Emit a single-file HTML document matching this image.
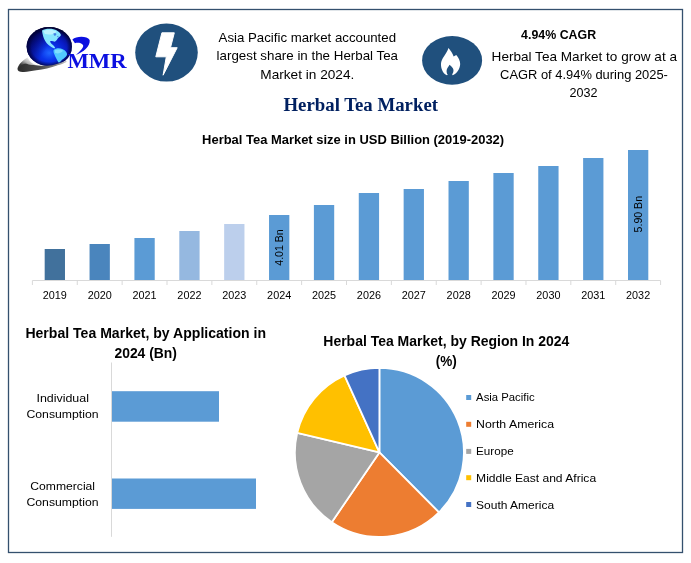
<!DOCTYPE html>
<html lang="en"><head><meta charset="utf-8"><title>Herbal Tea Market</title>
<style>html,body{margin:0;padding:0;background:#fff;}body{width:691px;height:563px;overflow:hidden;}svg{display:block;}text{font-family:"Liberation Sans",sans-serif;fill:#000;}.b{font-weight:bold;}.ser{font-family:"Liberation Serif",serif;font-weight:bold;}</style></head><body>
<svg width="691" height="563" viewBox="0 0 691 563">
<defs><radialGradient id="gl" cx="0.5" cy="0.66" r="0.64"><stop offset="0" stop-color="#1f66ff"/><stop offset="0.3" stop-color="#0a34ea"/><stop offset="0.6" stop-color="#091cc8"/><stop offset="0.85" stop-color="#06108a"/><stop offset="1" stop-color="#020530"/></radialGradient><radialGradient id="gl2" cx="0.5" cy="0.5" r="0.5"><stop offset="0.78" stop-color="#000030" stop-opacity="0"/><stop offset="1" stop-color="#000030" stop-opacity="0.75"/></radialGradient><linearGradient id="gl3" x1="0" y1="0.3" x2="0.45" y2="0.55"><stop offset="0" stop-color="#00003a" stop-opacity="0.75"/><stop offset="1" stop-color="#00003a" stop-opacity="0"/></linearGradient><linearGradient id="sw" gradientUnits="userSpaceOnUse" x1="-73" y1="0" x2="480" y2="0"><stop offset="0" stop-color="#2c2c2c"/><stop offset="0.45" stop-color="#4a4a4a"/><stop offset="0.75" stop-color="#7c7c7c"/><stop offset="1" stop-color="#c4c4c4"/></linearGradient><linearGradient id="sw2" gradientUnits="userSpaceOnUse" x1="60" y1="385" x2="0" y2="480"><stop offset="0" stop-color="#f2f2f2"/><stop offset="0.5" stop-color="#b0b0b0"/><stop offset="1" stop-color="#3a3a3a"/></linearGradient></defs>
<rect x="0" y="0" width="691" height="563" fill="#ffffff"/>
<rect x="8.5" y="9.5" width="674" height="543" fill="none" stroke="#34506e" stroke-width="1.3"/>
<g transform="translate(24 24) scale(0.08873)">
<ellipse cx="285" cy="255" rx="255" ry="221" fill="url(#gl)"/>
<ellipse cx="285" cy="255" rx="255" ry="221" fill="url(#gl2)"/>
<ellipse cx="285" cy="255" rx="255" ry="221" fill="url(#gl3)"/>
<path d="M203,72 C230,52 292,48 332,58 C372,68 408,90 417,125 C408,146 388,150 378,166 C370,182 360,192 344,200 C332,194 312,186 294,194 C296,214 318,230 338,248 C346,258 350,266 352,274 C336,276 318,268 300,254 C268,232 240,200 226,165 C214,135 206,100 203,72 Z" fill="#86e6ff"/>
<path d="M218,78 C260,60 322,60 366,84 C348,116 290,126 236,114 Z" fill="#c4f6ff" opacity="0.85"/>
<path d="M330,108 l22,-6 l14,12 l-8,16 l-18,2 Z M372,140 l12,-8 l6,10 l-10,8 Z" fill="#1a3fd0" opacity="0.6"/>
<path d="M334,292 C358,272 402,268 436,284 C466,298 490,324 484,348 C474,374 444,388 428,404 C414,420 402,440 386,432 C372,404 352,372 342,342 C335,322 329,306 334,292 Z" fill="#52caff"/>
<path d="M348,296 C375,282 412,284 440,300 C424,332 380,338 350,324 Z" fill="#8be4ff" opacity="0.8"/>
<path d="M-73,508 C-70,460 -15,410 43,374 C52,415 95,450 150,466 C100,462 50,455 18,447 Z" fill="url(#sw2)"/>
<path d="M-73,508 C-60,475 -20,455 18,445 C60,458 100,463 138,465 C180,470 220,473 259,471 C300,468 340,460 379,447 C415,436 445,428 477,414 L479,427 C445,445 415,455 379,466 C340,480 300,492 259,501 C220,510 180,515 139,520 C90,528 40,538 0,541 C-40,545 -75,535 -73,508 Z" fill="url(#sw)"/>
</g>
<g transform="translate(60 25) scale(0.10854)">
<path d="M114,134 C150,100 250,98 273,138 C282,195 215,250 146,277 C190,238 222,205 212,185 C195,162 160,162 138,168 Z" fill="#0b0fe0"/>
</g>
<text x="67.4" y="68.3" font-size="20.4" textLength="59.2" lengthAdjust="spacingAndGlyphs" class="ser" style="fill:#0b0fe0">MMR</text>
<ellipse cx="166.5" cy="52.6" rx="31.3" ry="29" fill="#20507d"/>
<path d="M161.9,32.8 L174.3,32.8 L170.5,47.7 L177.2,47.7 L163.1,75.2 L166.3,56.8 L155.8,56.8 Z" fill="#fff" stroke="#fff" stroke-width="1" stroke-linejoin="round"/>
<ellipse cx="452.1" cy="60.4" rx="30" ry="24.3" fill="#20507d"/>
<g transform="translate(436 42) scale(0.07111)">
<path d="M175,85 C205,120 235,160 248,205 C260,198 272,190 285,183 C315,220 342,265 340,310 C338,380 295,445 235,466 C228,462 226,455 232,445 C250,420 250,385 235,365 C225,350 205,335 190,320 C180,345 160,360 152,385 C145,410 150,440 165,462 C160,468 150,468 140,462 C95,435 68,370 70,310 C72,230 150,170 175,85 Z" fill="#fff"/>
</g>
<text x="307.3" y="41.6" font-size="13.2" text-anchor="middle" textLength="177.5" lengthAdjust="spacingAndGlyphs">Asia Pacific market accounted</text>
<text x="307.3" y="60.2" font-size="13.2" text-anchor="middle" textLength="181.5" lengthAdjust="spacingAndGlyphs">largest share in the Herbal Tea</text>
<text x="307.3" y="78.8" font-size="13.2" text-anchor="middle" textLength="94" lengthAdjust="spacingAndGlyphs">Market in 2024.</text>
<text x="558.6" y="39.1" font-size="13.2" text-anchor="middle" textLength="75" lengthAdjust="spacingAndGlyphs" class="b">4.94% CAGR</text>
<text x="584.3" y="61.2" font-size="13.2" text-anchor="middle" textLength="185.4" lengthAdjust="spacingAndGlyphs">Herbal Tea Market to grow at a</text>
<text x="584" y="79" font-size="13.2" text-anchor="middle" textLength="167.8" lengthAdjust="spacingAndGlyphs">CAGR of 4.94% during 2025-</text>
<text x="583.5" y="96.5" font-size="13.2" text-anchor="middle" textLength="28" lengthAdjust="spacingAndGlyphs">2032</text>
<text x="283.5" y="111" font-size="18.67" textLength="154.5" lengthAdjust="spacingAndGlyphs" class="ser" style="fill:#002060">Herbal Tea Market</text>
<text x="353.1" y="144.4" font-size="13.2" text-anchor="middle" textLength="302" lengthAdjust="spacingAndGlyphs" class="b">Herbal Tea Market size in USD Billion (2019-2032)</text>
<rect x="44.68" y="249" width="20.3" height="31" fill="#41719c"/>
<rect x="89.55" y="244" width="20.3" height="36" fill="#4a85bd"/>
<rect x="134.42" y="238" width="20.3" height="42" fill="#5b9bd5"/>
<rect x="179.29" y="231" width="20.3" height="49" fill="#95b8e0"/>
<rect x="224.16" y="224" width="20.3" height="56" fill="#bccfec"/>
<rect x="269.04" y="215" width="20.3" height="65" fill="#5b9bd5"/>
<rect x="313.90" y="205" width="20.3" height="75" fill="#5b9bd5"/>
<rect x="358.77" y="193" width="20.3" height="87" fill="#5b9bd5"/>
<rect x="403.64" y="189" width="20.3" height="91" fill="#5b9bd5"/>
<rect x="448.51" y="181" width="20.3" height="99" fill="#5b9bd5"/>
<rect x="493.38" y="173" width="20.3" height="107" fill="#5b9bd5"/>
<rect x="538.25" y="166" width="20.3" height="114" fill="#5b9bd5"/>
<rect x="583.12" y="158" width="20.3" height="122" fill="#5b9bd5"/>
<rect x="628.00" y="150" width="20.3" height="130" fill="#5b9bd5"/>
<path d="M32.4,280.5 H660.58" stroke="#d9d9d9" stroke-width="1" fill="none"/>
<path d="M32.40,280.5 v4.5 M77.27,280.5 v4.5 M122.14,280.5 v4.5 M167.01,280.5 v4.5 M211.88,280.5 v4.5 M256.75,280.5 v4.5 M301.62,280.5 v4.5 M346.49,280.5 v4.5 M391.36,280.5 v4.5 M436.23,280.5 v4.5 M481.10,280.5 v4.5 M525.97,280.5 v4.5 M570.84,280.5 v4.5 M615.71,280.5 v4.5 M660.58,280.5 v4.5 " stroke="#d9d9d9" stroke-width="1" fill="none"/>
<text x="54.83" y="299.2" font-size="10.8" text-anchor="middle" textLength="24.1" lengthAdjust="spacingAndGlyphs">2019</text>
<text x="99.70" y="299.2" font-size="10.8" text-anchor="middle" textLength="24.1" lengthAdjust="spacingAndGlyphs">2020</text>
<text x="144.57" y="299.2" font-size="10.8" text-anchor="middle" textLength="24.1" lengthAdjust="spacingAndGlyphs">2021</text>
<text x="189.44" y="299.2" font-size="10.8" text-anchor="middle" textLength="24.1" lengthAdjust="spacingAndGlyphs">2022</text>
<text x="234.31" y="299.2" font-size="10.8" text-anchor="middle" textLength="24.1" lengthAdjust="spacingAndGlyphs">2023</text>
<text x="279.19" y="299.2" font-size="10.8" text-anchor="middle" textLength="24.1" lengthAdjust="spacingAndGlyphs">2024</text>
<text x="324.05" y="299.2" font-size="10.8" text-anchor="middle" textLength="24.1" lengthAdjust="spacingAndGlyphs">2025</text>
<text x="368.92" y="299.2" font-size="10.8" text-anchor="middle" textLength="24.1" lengthAdjust="spacingAndGlyphs">2026</text>
<text x="413.79" y="299.2" font-size="10.8" text-anchor="middle" textLength="24.1" lengthAdjust="spacingAndGlyphs">2027</text>
<text x="458.66" y="299.2" font-size="10.8" text-anchor="middle" textLength="24.1" lengthAdjust="spacingAndGlyphs">2028</text>
<text x="503.53" y="299.2" font-size="10.8" text-anchor="middle" textLength="24.1" lengthAdjust="spacingAndGlyphs">2029</text>
<text x="548.40" y="299.2" font-size="10.8" text-anchor="middle" textLength="24.1" lengthAdjust="spacingAndGlyphs">2030</text>
<text x="593.27" y="299.2" font-size="10.8" text-anchor="middle" textLength="24.1" lengthAdjust="spacingAndGlyphs">2031</text>
<text x="638.14" y="299.2" font-size="10.8" text-anchor="middle" textLength="24.1" lengthAdjust="spacingAndGlyphs">2032</text>
<text transform="translate(282.79 247.5) rotate(-90)" font-size="10.8" text-anchor="middle" textLength="36.5" lengthAdjust="spacingAndGlyphs">4.01 Bn</text>
<text transform="translate(641.75 214.2) rotate(-90)" font-size="10.8" text-anchor="middle" textLength="36.5" lengthAdjust="spacingAndGlyphs">5.90 Bn</text>
<text x="145.7" y="338.1" font-size="14.4" text-anchor="middle" textLength="240.6" lengthAdjust="spacingAndGlyphs" class="b">Herbal Tea Market, by Application in</text>
<text x="145.7" y="357.5" font-size="14.4" text-anchor="middle" textLength="62.5" lengthAdjust="spacingAndGlyphs" class="b">2024 (Bn)</text>
<path d="M111.5,362.5 V536.8" stroke="#d9d9d9" stroke-width="1" fill="none"/>
<rect x="112" y="391.2" width="107" height="30.5" fill="#5b9bd5"/>
<rect x="112" y="478.5" width="144" height="30.4" fill="#5b9bd5"/>
<text x="62.7" y="401.8" font-size="11" text-anchor="middle" textLength="52.5" lengthAdjust="spacingAndGlyphs">Individual</text>
<text x="62.5" y="417.9" font-size="11" text-anchor="middle" textLength="72.1" lengthAdjust="spacingAndGlyphs">Consumption</text>
<text x="62.7" y="489.8" font-size="11" text-anchor="middle" textLength="64.7" lengthAdjust="spacingAndGlyphs">Commercial</text>
<text x="62.5" y="506" font-size="11" text-anchor="middle" textLength="72.1" lengthAdjust="spacingAndGlyphs">Consumption</text>
<text x="446.3" y="346" font-size="14.4" text-anchor="middle" textLength="246" lengthAdjust="spacingAndGlyphs" class="b">Herbal Tea Market, by Region In 2024</text>
<text x="446.2" y="365.5" font-size="14.4" text-anchor="middle" textLength="21.1" lengthAdjust="spacingAndGlyphs" class="b">(%)</text>
<path d="M379.4,452.4 L379.40,367.90 A84.5,84.5 0 0 1 438.94,512.36 Z" fill="#5b9bd5" stroke="#fff" stroke-width="1.8" stroke-linejoin="round"/>
<path d="M379.4,452.4 L438.94,512.36 A84.5,84.5 0 0 1 331.78,522.21 Z" fill="#ed7d31" stroke="#fff" stroke-width="1.8" stroke-linejoin="round"/>
<path d="M379.4,452.4 L331.78,522.21 A84.5,84.5 0 0 1 297.17,432.96 Z" fill="#a5a5a5" stroke="#fff" stroke-width="1.8" stroke-linejoin="round"/>
<path d="M379.4,452.4 L297.17,432.96 A84.5,84.5 0 0 1 344.49,375.45 Z" fill="#ffc000" stroke="#fff" stroke-width="1.8" stroke-linejoin="round"/>
<path d="M379.4,452.4 L344.49,375.45 A84.5,84.5 0 0 1 379.40,367.90 Z" fill="#4472c4" stroke="#fff" stroke-width="1.8" stroke-linejoin="round"/>
<rect x="466.2" y="395" width="5" height="5" fill="#5b9bd5"/>
<text x="476.1" y="401.1" font-size="11" text-anchor="start" textLength="58.5" lengthAdjust="spacingAndGlyphs">Asia Pacific</text>
<rect x="466.2" y="421.8" width="5" height="5" fill="#ed7d31"/>
<text x="476.1" y="427.8" font-size="11" text-anchor="start" textLength="78" lengthAdjust="spacingAndGlyphs">North America</text>
<rect x="466.2" y="448.9" width="5" height="5" fill="#a5a5a5"/>
<text x="476.1" y="454.6" font-size="11" text-anchor="start" textLength="37.6" lengthAdjust="spacingAndGlyphs">Europe</text>
<rect x="466.2" y="475.2" width="5" height="5" fill="#ffc000"/>
<text x="476.1" y="481.6" font-size="11" text-anchor="start" textLength="120" lengthAdjust="spacingAndGlyphs">Middle East and Africa</text>
<rect x="466.2" y="502" width="5" height="5" fill="#4472c4"/>
<text x="476.1" y="508.6" font-size="11" text-anchor="start" textLength="78" lengthAdjust="spacingAndGlyphs">South America</text>
</svg></body></html>
